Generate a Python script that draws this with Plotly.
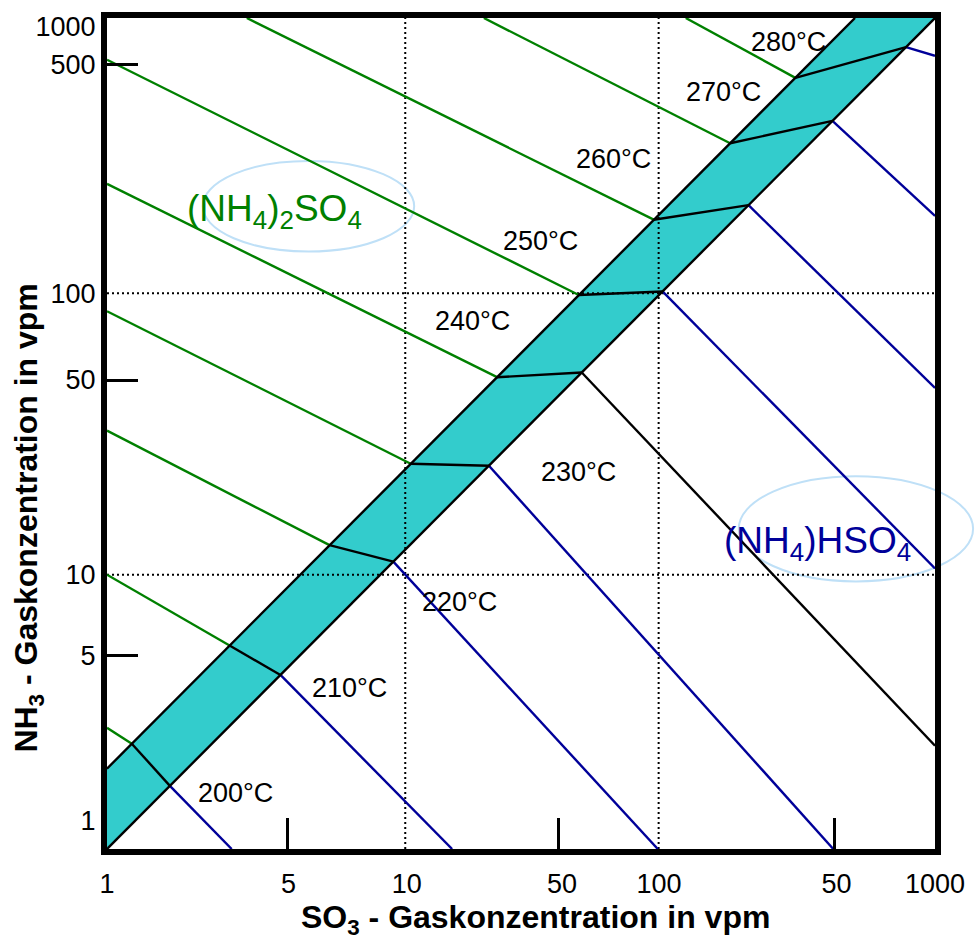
import plotly.graph_objects as go

# ---------------- data ----------------
temps = [200, 210, 220, 230, 240, 250, 260, 270, 280]

# isotherm start point on the (NH4)2SO4 side (plot edge)
start_so3 = [1, 1, 1, 1, 1, 1, 3.21, 23.2, 125]
start_nh3 = [2.74, 9.78, 32.4, 87.4, 252, 707, 1000, 1000, 1000]
# point where the isotherm meets the upper edge of the band
upper_so3 = [1.23, 2.78, 6.4, 12.6, 25.9, 51.2, 95.7, 181, 312]
upper_nh3 = [2.40, 5.43, 12.5, 24.6, 50.5, 100, 187, 353, 608]
# point where the isotherm meets the lower edge of the band
lower_so3 = [1.69, 4.25, 10.9, 24.2, 52.5, 103, 211, 425, 785]
lower_nh3 = [1.69, 4.25, 10.9, 24.2, 52.5, 103, 211, 425, 785]
# isotherm end point on the (NH4)HSO4 side (plot edge)
end_so3 = [2.83, 17.8, 99, 428, 1000, 1000, 1000, 1000, 1000]
end_nh3 = [1, 1, 1, 1, 2.36, 10.3, 46.2, 193, 730]

# band between the two salts
band_lower_so3 = [1, 1000]
band_lower_nh3 = [1, 1000]
band_upper_so3 = [1, 513]
band_upper_nh3 = [1.95, 1000]

# dotted reference lines
grid_so3 = [12.04, 99.7]
grid_nh3 = [9.78, 101.4]

# axis labels as printed
x_tick_text = ["1", "5", "10", "50", "100", "50", "1000"]
x_tick_vals = [1, 4.55, 12.2, 44.5, 100, 440, 1000]
y_tick_text = ["1", "5", "10", "50", "100", "500", "1000"]
y_tick_vals = [1.27, 5, 9.78, 49.5, 101.4, 680, 929]
x_mark_vals = [4.51, 43.4, 431]
y_mark_vals = [5.0, 49, 678]

temp_labels = [f"{t}°C" for t in temps]
label_pos = [(0.1554, 0.0670), (0.2928, 0.1938), (0.4253, 0.2978), (0.5699, 0.4533),
             (0.4410, 0.6352), (0.5241, 0.7321), (0.6120, 0.8301), (0.7446, 0.9115),
             (0.8229, 0.9713)]
end_colors = ["#000099", "#000099", "#000099", "#000099", "black",
              "#000099", "#000099", "#000099", "#000099"]

GREEN = "#008000"
NAVY = "#000099"
FONT = "Arial, Liberation Sans, sans-serif"
LW = 2.4

fig = go.Figure()

# band fill
fig.add_trace(go.Scatter(
    x=[band_lower_so3[0], band_lower_so3[1], band_upper_so3[1], band_upper_so3[0]],
    y=[band_lower_nh3[0], band_lower_nh3[1], band_upper_nh3[1], band_upper_nh3[0]],
    fill="toself", fillcolor="#33CCCC", mode="lines", line=dict(width=0),
    hoverinfo="skip", showlegend=False))

# dotted lines
for gx in grid_so3:
    fig.add_trace(go.Scatter(x=[gx, gx], y=[1, 1000], mode="lines",
                             line=dict(color="black", width=2, dash="2px,3px"),
                             hoverinfo="skip", showlegend=False))
for gy in grid_nh3:
    fig.add_trace(go.Scatter(x=[1, 1000], y=[gy, gy], mode="lines",
                             line=dict(color="black", width=2, dash="2px,3px"),
                             hoverinfo="skip", showlegend=False))

# green parts
gx, gy = [], []
for i in range(len(temps)):
    gx += [start_so3[i], upper_so3[i], None]
    gy += [start_nh3[i], upper_nh3[i], None]
fig.add_trace(go.Scatter(x=gx, y=gy, mode="lines", line=dict(color=GREEN, width=LW),
                         hoverinfo="skip", showlegend=False))

# blue / black parts on the bisulfate side
for col in [NAVY, "black"]:
    bx, by = [], []
    for i in range(len(temps)):
        if end_colors[i] == col:
            bx += [lower_so3[i], end_so3[i], None]
            by += [lower_nh3[i], end_nh3[i], None]
    fig.add_trace(go.Scatter(x=bx, y=by, mode="lines", line=dict(color=col, width=LW),
                             hoverinfo="skip", showlegend=False))

# band edges
fig.add_trace(go.Scatter(x=band_lower_so3, y=band_lower_nh3, mode="lines",
                         line=dict(color="black", width=LW), hoverinfo="skip", showlegend=False))
fig.add_trace(go.Scatter(x=band_upper_so3, y=band_upper_nh3, mode="lines",
                         line=dict(color="black", width=LW), hoverinfo="skip", showlegend=False))

# connectors across band
cx, cy = [], []
for i in range(len(temps)):
    cx += [upper_so3[i], lower_so3[i], None]
    cy += [upper_nh3[i], lower_nh3[i], None]
fig.add_trace(go.Scatter(x=cx, y=cy, mode="lines", line=dict(color="black", width=LW),
                         hoverinfo="skip", showlegend=False))

annotations = []
for txt, (px, py) in zip(temp_labels, label_pos):
    annotations.append(dict(x=px, y=py, xref="paper", yref="paper", text=txt,
                            showarrow=False, font=dict(size=27, color="black", family=FONT),
                            xanchor="center", yanchor="middle"))
annotations.append(dict(x=0.2024, y=0.768, xref="paper", yref="paper",
                        text="(NH<sub>4</sub>)<sub>2</sub>SO<sub>4</sub>", showarrow=False,
                        font=dict(size=37, color=GREEN, family=FONT),
                        xanchor="center", yanchor="middle"))
annotations.append(dict(x=0.858, y=0.368, xref="paper", yref="paper",
                        text="(NH<sub>4</sub>)HSO<sub>4</sub>", showarrow=False,
                        font=dict(size=37, color=NAVY, family=FONT),
                        xanchor="center", yanchor="middle"))
annotations.append(dict(x=0.517, y=-0.085, xref="paper", yref="paper",
                        text="<b>SO<sub>3</sub> - Gaskonzentration in vpm</b>", showarrow=False,
                        font=dict(size=32, color="black", family=FONT),
                        xanchor="center", yanchor="middle"))
annotations.append(dict(x=-0.095, y=0.398, xref="paper", yref="paper",
                        text="<b>NH<sub>3</sub> - Gaskonzentration in vpm</b>", showarrow=False,
                        textangle=-90,
                        font=dict(size=32, color="black", family=FONT),
                        xanchor="center", yanchor="middle"))

shapes = [
    dict(type="circle", xref="paper", yref="paper", x0=0.1157, x1=0.371, y0=0.719, y1=0.828,
         line=dict(color="#BFE0F7", width=2), layer="below"),
    dict(type="circle", xref="paper", yref="paper", x0=0.763, x1=1.046, y0=0.322, y1=0.4486,
         line=dict(color="#BFE0F7", width=2), layer="below"),
]

axis_common = dict(type="log", range=[0, 3], showline=True, linewidth=6, linecolor="black",
                   mirror=True, showgrid=False, zeroline=False, ticks="",
                   tickfont=dict(size=27, color="black", family=FONT), tickmode="array")

fig.update_layout(
    width=977, height=942,
    margin=dict(l=107, r=40, t=13, b=93),
    paper_bgcolor="white", plot_bgcolor="rgba(0,0,0,0)",
    showlegend=False,
    xaxis=dict(**axis_common, tickvals=x_tick_vals, ticktext=x_tick_text,
               ticklabelstandoff=6,
               minor=dict(tickmode="array", tickvals=x_mark_vals, ticks="inside",
                          ticklen=31, tickwidth=2.5, tickcolor="black", showgrid=False)),
    yaxis=dict(**axis_common, tickvals=y_tick_vals, ticktext=y_tick_text,
               minor=dict(tickmode="array", tickvals=y_mark_vals, ticks="inside",
                          ticklen=31, tickwidth=2.5, tickcolor="black", showgrid=False)),
    annotations=annotations, shapes=shapes,
)

fig.write_html("out.html")
